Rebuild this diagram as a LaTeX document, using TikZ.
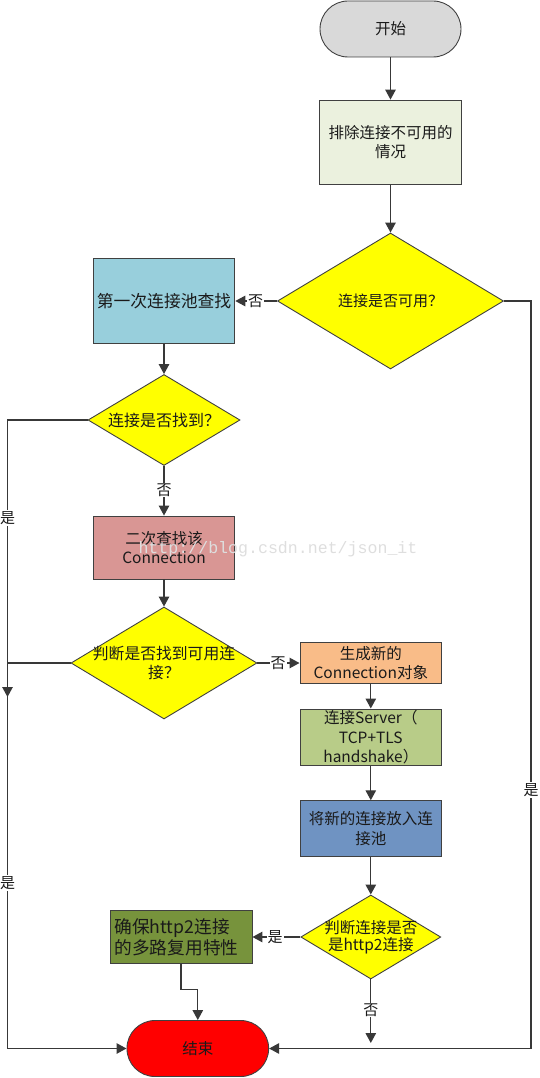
\documentclass[tikz,border=0pt]{standalone}
\usepackage{fontspec}
\setmainfont{Noto Sans CJK SC}
\newfontfamily\wmfont{Liberation Mono}
\usetikzlibrary{shapes.geometric,arrows.meta}
\definecolor{startc}{HTML}{D9D9D9}
\definecolor{cA}{HTML}{EBF1DE}
\definecolor{cB}{HTML}{98CFDC}
\definecolor{cC}{HTML}{D99694}
\definecolor{cD}{HTML}{F9BC88}
\definecolor{cE}{HTML}{B8CC88}
\definecolor{cF}{HTML}{6F93C2}
\definecolor{cG}{HTML}{77933C}
\definecolor{endc}{HTML}{FF0000}
\definecolor{dyel}{HTML}{FFFF00}
\definecolor{bordc}{HTML}{404040}
\definecolor{connc}{HTML}{383838}
\definecolor{txtc}{HTML}{1A1A1A}
\definecolor{wmc}{HTML}{DEDEDE}
\begin{document}
\begin{tikzpicture}[x=1pt,y=-1pt,
  base/.style={draw=bordc, line width=0.9pt, text=txtc, font=\fontsize{15.5}{19.5}\selectfont, align=center, inner sep=2pt},
  box/.style={base, rectangle, text width=137.7pt, inner xsep=2pt, minimum width=141.7pt},
  term/.style={base, rectangle, rounded corners=28pt, minimum width=141pt, minimum height=56pt},
  dia/.style={base, diamond, fill=dyel, inner sep=0pt},
  txt/.style={text=txtc, font=\fontsize{15.5}{19.5}\selectfont, align=center, inner sep=0pt},
  conn/.style={draw=connc, line width=1.3pt, -{Triangle[length=10pt,width=10.5pt]}},
  lbl/.style={fill=white, inner sep=1pt, text=txtc, font=\fontsize{15}{15}\selectfont}
]
\useasboundingbox (0,0) rectangle (539,1078);

% nodes
\node[term, fill=startc] (s) at (390.5,29) {开始};
\node[box, fill=cA, minimum height=84.5pt] (r0) at (390.5,142.3) {排除连接不可用的\\情况};
\node[dia, minimum width=226pt, minimum height=136pt] (d1) at (390.5,301) {};
\node[txt, font=\fontsize{15}{19}\selectfont] (t1) at (d1) {连接是否可用？};
\node[box, fill=cB, minimum height=84.3pt, font=\fontsize{16.8}{21}\selectfont] (r1) at (164,301) {第一次连接池查找};
\node[dia, minimum width=152pt, minimum height=91pt] (d2) at (164,420) {};
\node[txt, font=\fontsize{16}{19}\selectfont] (t2) at (d2) {连接是否找到？};
\node[box, fill=cC, minimum height=63pt] (r2) at (164,547.5) {二次查找该\\Connection};
\node[dia, minimum width=186pt, minimum height=112pt] (d3) at (164,663) {};
\node[txt, font=\fontsize{15.8}{19}\selectfont] (t3) at (d3) {判断是否找到可用连\\接？};
\node[box, fill=cD, minimum height=41pt, inner ysep=0pt] (r3) at (370.8,663) {生成新的\\Connection对象};
\node[box, fill=cE, minimum height=56.7pt, inner ysep=0pt] (r4) at (370.8,737.3) {连接Server（\\TCP+TLS\\handshake）};
\node[box, fill=cF, minimum height=56pt] (r5) at (370.8,828.7) {将新的连接放入连\\接池};
\node[dia, minimum width=140pt, minimum height=84pt] (d4) at (370.8,937) {};
\node[txt, font=\fontsize{15.5}{17.3}\selectfont] (t4) at (d4) {判断连接是否\\是http2连接};
\node[box, fill=cG, minimum width=142pt, minimum height=53pt, text width=133pt, align=left, inner xsep=4.5pt, inner ysep=0pt, font=\fontsize{17.7}{20.7}\selectfont] (r6) at (181,937) {确保http2连接\\的多路复用特性};
\node[term, fill=endc, minimum width=141.7pt] (e) at (197.8,1048.5) {结束};

% helper coordinates
\coordinate (lc) at (7.5,1048.5);
\coordinate (j3) at (7.5,697);
\coordinate (rc) at (531,1048.5);
\coordinate (m6) at (181,989.5);
\coordinate (f4) at (370.8,1043);

% connectors
\draw[conn] (s) -- (r0);
\draw[conn] (r0) -- (d1);
\draw[conn] (d1.west) -- (r1.east);
\draw[conn] (r1) -- (d2);
\draw[conn] (d2) -- (r2);
\draw[conn] (r2) -- (d3);
\draw[conn] (d3.east) -- (r3.west);
\draw[conn] (r3) -- (r4);
\draw[conn] (r4) -- (r5);
\draw[conn] (r5) -- (d4);
\draw[conn] (d4.west) -- (r6.east);
\draw[conn] (d4.south) -- (f4);
\draw[conn] (d2.west) -| (lc) -- (e.west);
\draw[conn] (d3.west) -| (j3);
\draw[conn] (d1.east) -| (rc) -- (e.east);
\draw[conn] (r6.south) -- (m6) -| (e.north);

% labels
\node[lbl] (l1) at (255.7,301) {否};
\node[lbl] (l2) at (164,490) {否};
\node[lbl] (l3) at (7.5,518) {是};
\node[lbl] (l4) at (7.5,883) {是};
\node[lbl] (l5) at (278,663) {否};
\node[lbl] (l6) at (531,790) {是};
\node[lbl] (l7) at (275,937) {是};
\node[lbl] (l8) at (370.8,1010) {否};

% watermark
\node[text=wmc, font=\wmfont\fontsize{16.6}{16.6}\selectfont, inner sep=0pt] (wm) at (278,549) {http://blog.csdn.net/json\_it};
\end{tikzpicture}
\end{document}
